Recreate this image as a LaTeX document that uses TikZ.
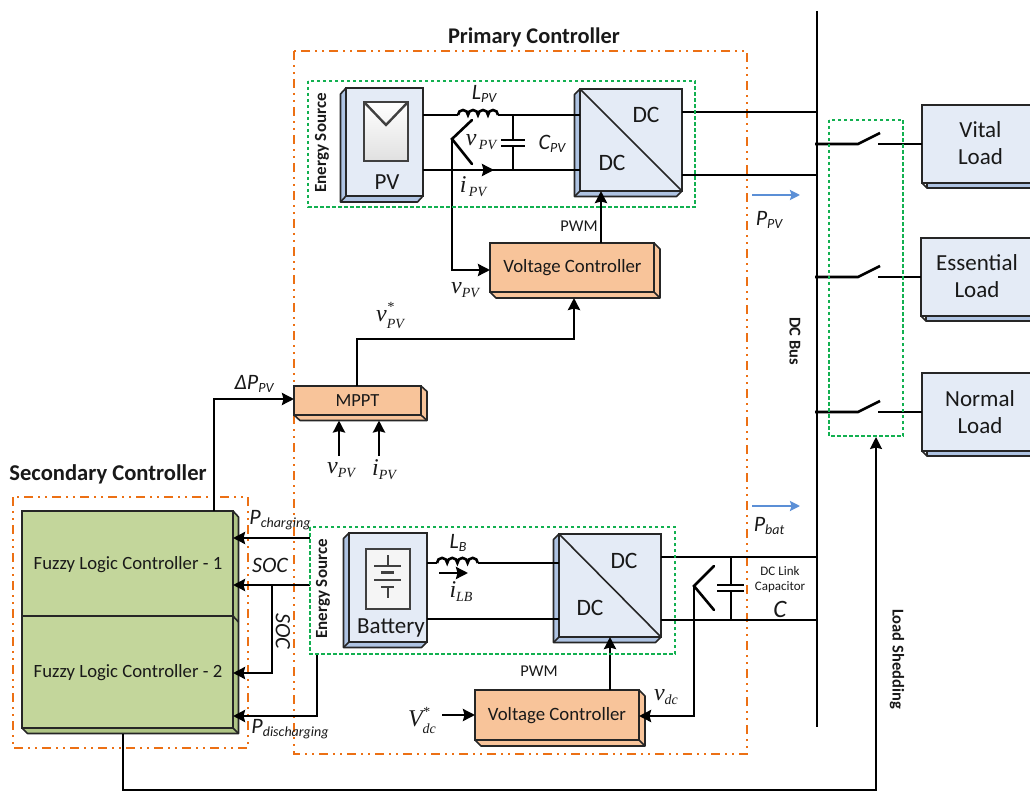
\documentclass[tikz,border=0pt]{standalone}
\usepackage{fontspec}
\setmainfont{Carlito}
\newfontfamily\serifi{Liberation Serif}
\usetikzlibrary{arrows.meta}
\definecolor{facebl}{HTML}{E4EBF6}
\definecolor{sidebl}{HTML}{AEC3E2}
\definecolor{faceor}{HTML}{F8C49A}
\definecolor{facegr}{HTML}{C3D69B}
\definecolor{sidegr}{HTML}{AFC585}
\definecolor{grn}{HTML}{12B050}
\definecolor{org}{HTML}{EC7014}
\definecolor{blu}{HTML}{5B8FD6}
\newcommand{\fs}[1]{\fontsize{#1}{#1}\selectfont}
% L / P style: Calibri italic with subscript
\newcommand{\clab}[2]{{\fs{22}\itshape #1\raisebox{-3pt}{\fs{14}#2}}}
% v / i style: serif italic with subscript
\newcommand{\slab}[2]{{\serifi\fs{24}\itshape #1\raisebox{-4pt}{\fs{14}#2}}}
\newcommand{\slabstar}[2]{{\serifi\fs{24}\itshape #1\rlap{\raisebox{10pt}{\fs{14}*}}\raisebox{-7pt}{\fs{14}#2}}}
% faces: name x0 y0 x1 y1 text fill side
\newcommand{\lbbox}[9]{% bevel to left and bottom; #8 = depth x, #9 = depth y
  \fill[#7] (#2,#3) -- ++(-#8,#9) -- (#2-#8,#5+#9) -- (#4-#8,#5+#9) -- (#4,#5) -- (#2,#5) -- cycle;
  \draw[boxline] (#2,#3) -- ++(-#8,#9) -- (#2-#8,#5+#9) -- (#4-#8,#5+#9) -- (#4,#5);
  \draw[boxline] (#2-#8,#5+#9) -- (#2,#5);
  \node[bface,fill=facebl,minimum width=#4pt-#2pt,minimum height=#5pt-#3pt] (#1) at ({(#2+#4)/2},{(#3+#5)/2}) {#6};}
\newcommand{\rbbox}[9]{% bevel to right and bottom
  \fill[#7] (#4,#3) -- ++(#8,#9) -- (#4+#8,#5+#9) -- (#2+#8,#5+#9) -- (#2,#5) -- (#4,#5) -- cycle;
  \draw[boxline] (#4,#3) -- ++(#8,#9) -- (#4+#8,#5+#9) -- (#2+#8,#5+#9) -- (#2,#5);
  \draw[boxline] (#4+#8,#5+#9) -- (#4,#5);
  \node[bface,fill=#7,minimum width=#4pt-#2pt,minimum height=#5pt-#3pt] (#1) at ({(#2+#4)/2},{(#3+#5)/2}) {#6};}
\newcommand{\inductor}[3]{% x y humpradius
  \draw[wire] (#1,#2) arc[start angle=180,end angle=360,radius=#3]
     arc[start angle=180,end angle=360,radius=#3]
     arc[start angle=180,end angle=360,radius=#3]
     arc[start angle=180,end angle=360,radius=#3];}
\tikzset{
  x=1pt,y=-1pt,
  boxline/.style={line width=1.6pt,draw=black!85,line join=round},
  bface/.style={draw=black!85,line width=1.6pt,inner sep=0pt,outer sep=0pt,align=center,text=black!90},
  wire/.style={line width=2.6pt,draw=black},
  awire/.style={wire,-{Stealth[length=12pt,width=12pt,inset=1.5pt]}},
  pflow/.style={line width=2.6pt,draw=blu,-{Stealth[length=10pt,width=10pt,inset=1.5pt]}},
  grnbox/.style={draw=grn,line width=2.8pt,dash pattern=on 3.5pt off 2.5pt,fill=none},
  orgbox/.style={draw=org,line width=2.6pt,dash pattern=on 9pt off 5pt on 2pt off 5pt on 2pt off 5pt,fill=none},
  txt/.style={inner sep=0pt,outer sep=0pt,text=black!90},
}
\begin{document}
\begin{tikzpicture}
\useasboundingbox (0,0) rectangle (1030,791);
\clip (0,0) rectangle (1030,791);

% ---------- dashed groups (under the wires)
\coordinate (prTL) at (294,51);
\coordinate (prBR) at (747,754);
\draw[orgbox] (prTL) rectangle (prBR);
\draw[orgbox] (13,497) rectangle (248,748);

% ---------- DC bus
\coordinate (busT) at (817,11);
\coordinate (busB) at (817,727);
\draw[line width=2.8pt] (busT) -- (busB);

% ---------- boxes
\lbbox{pv}{346}{88}{423}{196}{}{sidebl}{5.5}{6}
\lbbox{dcpv}{580}{89}{682}{191}{}{sidebl}{5.5}{5.5}
\rbbox{vcpv}{490}{243}{654}{292}{}{faceor}{6}{6}
\rbbox{mppt}{294}{386}{421}{415}{\fs{18.5}MPPT}{faceor}{6}{5.5}
\lbbox{bat}{349}{533}{427}{642}{}{sidebl}{5.5}{5.5}
\lbbox{dcbat}{559}{534}{661}{637}{}{sidebl}{5.5}{5.5}
\rbbox{vcbat}{475}{690}{639}{740}{}{faceor}{6}{6}
\node[txt,font=\fs{18.8}] (vcpvt) at (572.5,268) {Voltage Controller};
\node[txt,font=\fs{18.8}] (vcbatt) at (557,715.5) {Voltage Controller};
% fuzzy controllers
\fill[sidegr] (233,511) -- (238.5,517) -- (238.5,733.5) -- (27.5,733.5) -- (22,728) -- (233,728) -- cycle;
\draw[boxline] (233,511) -- (238.5,517) -- (238.5,733.5) -- (27.5,733.5) -- (22,728);
\draw[boxline] (238.5,733.5) -- (233,728);
\draw[boxline] (233,616) -- (238.5,622);
\node[bface,fill=facegr,minimum width=211pt,minimum height=105pt] (flc1) at (127.5,563.5) {};
\node[bface,fill=facegr,minimum width=211pt,minimum height=112pt] (flc2) at (127.5,672) {};
\node[txt,font=\fs{18.7}] (flc1t) at (128,565) {Fuzzy Logic Controller - 1};
\node[txt,font=\fs{18.7}] (flc2t) at (128,672.5) {Fuzzy Logic Controller - 2};
% loads
\lbbox{vital}{922}{105}{1040}{183}{}{sidebl}{-5}{5}
\lbbox{essen}{921}{238}{1040}{316}{}{sidebl}{-5}{5}
\lbbox{norm}{922}{373}{1040}{451}{}{sidebl}{-5}{5}
\node[txt,align=center,font=\fs{23}] (vitalt) at (980.5,143.5) {Vital\\[4pt]Load};
\node[txt,align=center,font=\fs{23}] (essent) at (977,276.5) {Essential\\[4pt]Load};
\node[txt,align=center,font=\fs{23}] (normt) at (980,412.5) {Normal\\[4pt]Load};

% ---------- DC/DC diagonals and labels
\draw[boxline] (dcpv.north west) -- (dcpv.south east);
\draw[boxline] (dcbat.north west) -- (dcbat.south east);
\node[txt,font=\fs{23.5}] (dc1) at (646,115) {DC};
\node[txt,font=\fs{23.5}] (dc2) at (612,163) {DC};
\node[txt,font=\fs{23.5}] (dc3) at (624,561) {DC};
\node[txt,font=\fs{23.5}] (dc4) at (590,608) {DC};

% ---------- PV icon
\node[draw=black!75,line width=2.6pt,inner sep=0pt,outer sep=0pt,minimum width=44pt,minimum height=59pt,top color=white,bottom color=black!12] (pvicon) at (386,131.5) {};
\coordinate (pvv) at (386,125);
\draw[draw=black!75,line width=2.4pt] (pvicon.north west) -- (pvv) -- (pvicon.north east);
\node[txt,font=\fs{23}] (pvt) at (387,182) {PV};
% ---------- battery icon
\node[draw=black!75,line width=2.6pt,fill=black!4,inner sep=0pt,outer sep=0pt,minimum width=44pt,minimum height=60pt] (baticon) at (388,579) {};
\draw[line width=2.2pt,draw=black!75] (388,555) -- (388,566) (374,566) -- (401,566) (381,572.5) -- (394,572.5) (374,580) -- (401,580) (381,587) -- (394,587) (388,587) -- (388,598);
\node[txt,font=\fs{23}] (batt) at (391,628) {Battery};

% ---------- PV converter wiring
\draw[wire] (pv.east |- 0,115) -- (458,115);
\inductor{458}{115}{5}
\draw[wire] (498,115) -- (dcpv.west |- 0,115) ;
\draw[wire] (pv.east |- 0,170) -- (dcpv.west |- 0,170);
\coordinate (ipvtip) at (494,170);
\draw[awire] (pv.east |- 0,170) -- (ipvtip);
\coordinate (cpvT) at (513,115);
\coordinate (cpvB) at (513,170);
\draw[wire] (cpvT) -- (513,140) (513,146) -- (cpvB);
\draw[wire] (501,140) -- (525,140) (501,146) -- (525,146);
\coordinate (senspv) at (452,139);
\draw[wire,line cap=round] (472,120) -- (senspv) -- (472,164);
\draw[awire,rounded corners=0pt] (senspv) -- (452,270) -- (vcpv.west |- 0,270);
\draw[awire] (vcpv.north -| 601,0) -- (dcpv.south -| 601,0);
\draw[wire] (dcpv.east |- 0,112) -- (busT |- 0,112);
\draw[wire] (dcpv.east |- 0,175) -- (busT |- 0,175);

% ---------- MPPT wiring
\coordinate (vcin) at (574,298);
\draw[awire] (mppt.north -| 357,0) -- (357,339) -- (574,339) -- (vcin);
\draw[awire] (flc1.north -| 214,0) -- (214,399) -- (mppt.west |- 0,399);
\coordinate (mv) at (339,456);
\coordinate (mi) at (379,456);
\coordinate (mvT) at (339,420.5);
\coordinate (miT) at (379,420.5);
\draw[awire] (mv) -- (mvT);
\draw[awire] (mi) -- (miT);

% ---------- Battery converter wiring
\draw[wire] (bat.east |- 0,563) -- (437,563);
\inductor{437}{563}{5.1}
\draw[wire] (478,563) -- (dcbat.west |- 0,563);
\draw[wire] (bat.east |- 0,619) -- (dcbat.west |- 0,619);
\coordinate (ilbS) at (439,573);
\coordinate (ilbE) at (468,573);
\draw[awire] (ilbS) -- (ilbE);
\draw[wire] (dcbat.east |- 0,557) -- (busT |- 0,557);
\draw[wire] (dcbat.east |- 0,620) -- (busT |- 0,620);
\coordinate (cdcT) at (731,557);
\coordinate (cdcB) at (731,620);
\draw[wire] (cdcT) -- (731,585) (731,591) -- (cdcB);
\draw[wire] (717,585) -- (744,585) (717,591) -- (744,591);
\coordinate (sensdc) at (694,586);
\draw[wire,line cap=round] (714,566) -- (sensdc) -- (714,610);
\draw[awire] (sensdc) -- (694,716) -- (vcbat.east |- 0,716);
\draw[awire] (vcbat.north -| 610,0) -- (dcbat.south -| 610,0);
\coordinate (vdcS) at (442,715);
\draw[awire] (vdcS) -- (vcbat.west |- 0,715);

% ---------- secondary controller wiring
\coordinate (eschg) at (310,538);
\coordinate (essoc) at (310,585);
\coordinate (esdis) at (317,654);
\draw[awire] (eschg) -- (flc1.east |- 0,538);
\draw[awire] (essoc) -- (flc1.east |- 0,585);
\draw[awire] (272,585) -- (272,673) -- (flc2.east |- 0,673);
\draw[awire] (esdis) -- (317,716) -- (flc2.east |- 0,716);

% ---------- load shedding
\draw[line width=2pt,-{Stealth[length=12pt,width=12pt,inset=1.5pt]}] (123,733.5) -- (123,790) -- (876,790) -- (876,437);

% ---------- load switches
\foreach \n/\yy/\xx in {vital/144/922,essen/277/921,norm/412/922}{
  \draw[wire] (815,\yy) -- (858,\yy) -- (880,\yy-11);
  \draw[wire] (878,\yy) -- (\xx,\yy);
}

% ---------- green groups
\draw[grnbox] (308,81) rectangle (695,207);
\draw[grnbox] (310,527) rectangle (675,654);
\draw[grnbox] (829,120) rectangle (903,436);

% ---------- power flow arrows
\coordinate (ppvS) at (752,195);
\coordinate (ppvE) at (800,195);
\coordinate (pbatS) at (752,506);
\coordinate (pbatE) at (800,506);
\draw[pflow] (ppvS) -- (ppvE);
\draw[pflow] (pbatS) -- (pbatE);

% ---------- text
\node[txt,font=\fs{22.4}\bfseries] (tprim) at (534,37) {Primary Controller};
\node[txt,font=\fs{22.6}\bfseries] (tsec) at (108,474) {Secondary Controller};
\node[txt,font=\fs{17}\bfseries,rotate=90] (es1) at (322,143) {Energy Source};
\node[txt,font=\fs{17}\bfseries,rotate=90] (es2) at (323,589) {Energy Source};
\node[txt,font=\fs{16.5}\bfseries,rotate=-90] (tbus) at (795,341) {DC Bus};
\node[txt,font=\fs{16.5}\bfseries,rotate=-90] (tshed) at (897,659) {Load Shedding};
\node[txt,align=center,font=\fs{13}] (tlink) at (780,580) {DC Link\\[2pt]Capacitor};
\node[txt,font=\fs{16.5}] (pwm1) at (579,226) {PWM};
\node[txt,font=\fs{16.5}] (pwm2) at (539,671) {PWM};
\node[txt] (lpv) at (484,94) {\clab{L}{PV}};
\node[txt] (cpv) at (552,144) {\clab{C}{PV}};
\node[txt] (ppv) at (769,220) {\clab{P}{PV}};
\node[txt] (pbat) at (769,526) {\clab{P}{bat}};
\node[txt] (lb) at (458,543) {\clab{L}{B}};
\node[txt,font=\fs{25}\itshape] (tc) at (780,609) {C};
\node[txt] (dp) at (254,384) {\clab{ΔP}{PV}};
\node[txt] (pch) at (280,520) {\clab{P}{charging}};
\node[txt,font=\fs{22}\itshape] (soc1) at (270,565) {SOC};
\node[txt,font=\fs{22}\itshape,rotate=-90] (soc2) at (283,631) {SOC};
\node[txt] (pdis) at (290,729) {\clab{P}{discharging}};
\node[txt] (vpv1) at (481,142) {\slab{v}{\,PV}};
\node[txt] (ipv) at (473,187) {\slab{i}{\,PV}};
\node[txt] (vpv2) at (465,290) {\slab{v}{PV}};
\node[txt] (vstar) at (390,316) {\slabstar{v}{PV}};
\node[txt] (vpv3) at (341,470) {\slab{v}{PV}};
\node[txt] (ipv3) at (384,470) {\slab{i}{PV}};
\node[txt] (ilb) at (461,592) {\slab{i}{LB}};
\node[txt] (vdcs) at (422,720) {\slabstar{V}{dc}};
\node[txt] (vdc) at (666,697) {\slab{v}{dc}};
\end{tikzpicture}
\end{document}
